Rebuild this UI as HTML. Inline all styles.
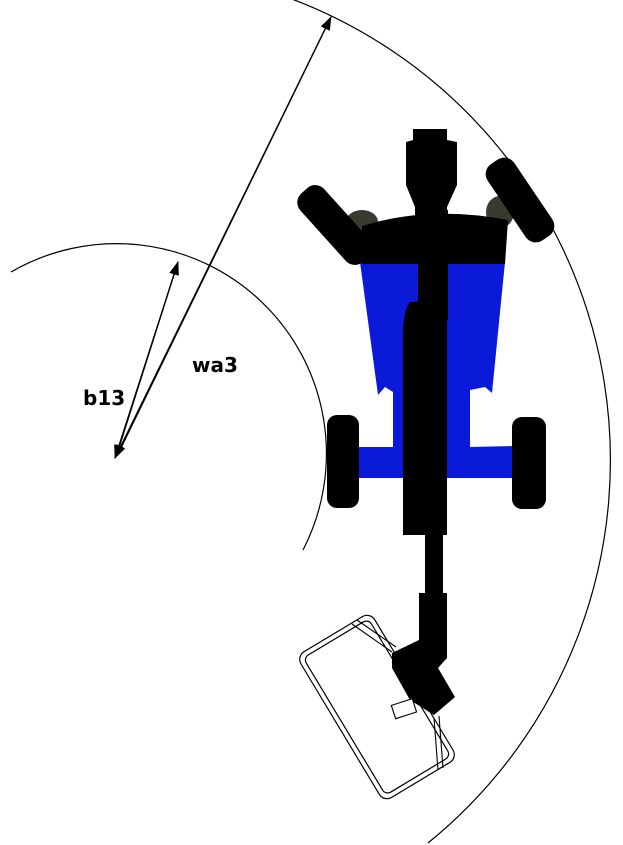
<!DOCTYPE html>
<html><head><meta charset="utf-8"><style>
html,body{margin:0;padding:0;background:#fff;}
svg{display:block;}
</style></head><body>
<svg width="623" height="845" viewBox="0 0 623 845" xmlns="http://www.w3.org/2000/svg">
<defs>
<marker id="ah" markerWidth="14" markerHeight="10" refX="13" refY="5" orient="auto" markerUnits="userSpaceOnUse">
<path d="M0,0 L14,5 L0,10 Z" fill="#000"/>
</marker>
</defs>
<!-- circles -->
<path d="M11,272 A210,210 0 0 1 303,550" fill="none" stroke="#000" stroke-width="1.2"/>
<path d="M275,-7 A493,493 0 0 1 428,843" fill="none" stroke="#000" stroke-width="1.2"/>
<!-- arrows -->
<line x1="118" y1="454" x2="331" y2="17" stroke="#000" stroke-width="1.3" marker-end="url(#ah)"/>
<line x1="331" y1="17" x2="115" y2="458" stroke="#000" stroke-width="1.3" marker-end="url(#ah)"/>
<line x1="117" y1="454" x2="178" y2="262" stroke="#000" stroke-width="1.3" marker-end="url(#ah)"/>
<line x1="178" y1="262" x2="115" y2="458" stroke="#000" stroke-width="1.3" marker-end="url(#ah)"/>
<text x="192" y="372" font-family="DejaVu Sans, sans-serif" font-weight="bold" font-size="20">wa3</text>
<text x="83" y="405" font-family="DejaVu Sans, sans-serif" font-weight="bold" font-size="20">b13</text>

<!-- gray blobs behind front wheels -->
<ellipse cx="362" cy="222" rx="16" ry="12" fill="#3a3a30"/>
<ellipse cx="500" cy="212" rx="14" ry="16" fill="#3a3a30"/>
<!-- blue body -->
<path d="M360,262 L505,262 L492,393 L485,387 L470,390 L470,447 L513,446 L513,478 L357,478 L357,447 L393,447 L393,392 L385,387 L378,395 Z" fill="#0a1ad8"/>
<!-- front axle blob -->
<path d="M362,226 Q430,205 508,220 L505,264 L362,264 Z" fill="#000"/>
<!-- hood -->
<path d="M413,129 L447,129 L447,140 L457,142 L457,185 L447,207 L447,218 L415,218 L415,207 L406,185 L406,142 L413,140 Z" fill="#000"/>
<!-- spine -->
<rect x="418" y="210" width="30" height="110" fill="#000"/>
<path d="M410,302 Q404,310 403,330 L403,535 L447,535 L447,300 Z" fill="#000"/>
<rect x="425" y="530" width="18" height="64" fill="#000"/>
<!-- front wheels -->
<rect x="-46" y="-16" width="92" height="32" rx="12" fill="#000" transform="translate(335,225) rotate(48)"/>
<rect x="-46" y="-16" width="92" height="32" rx="12" fill="#000" transform="translate(520,200) rotate(56)"/>
<!-- rear wheels -->
<rect x="327" y="415" width="32" height="93" rx="10" fill="#000"/>
<rect x="512" y="417" width="34" height="92" rx="10" fill="#000"/>
<!-- hitch -->
<path d="M419,593 L447,593 L447,658 L438,668 L455,697 L434,715 L410,700 L392,668 L392,653 L419,640 Z" fill="#000"/>
<!-- mower -->
<g transform="translate(377,707) rotate(-31)" fill="none" stroke="#000" stroke-width="1.2">
<rect x="-43" y="-85" width="86" height="170" rx="9"/>
<rect x="-38" y="-80" width="76" height="160" rx="6"/>
</g>
<path d="M352,624 L392,652 M357,620 L396,647" stroke="#000" stroke-width="1.1" fill="none"/>
<path d="M434,718 L438,770 M439,716 L443,768" stroke="#000" stroke-width="1.1" fill="none"/>
<rect x="-10" y="-7" width="22" height="14" fill="#fff" stroke="#000" stroke-width="1.1" transform="translate(403,709) rotate(-18)"/>
</svg>
</body></html>
